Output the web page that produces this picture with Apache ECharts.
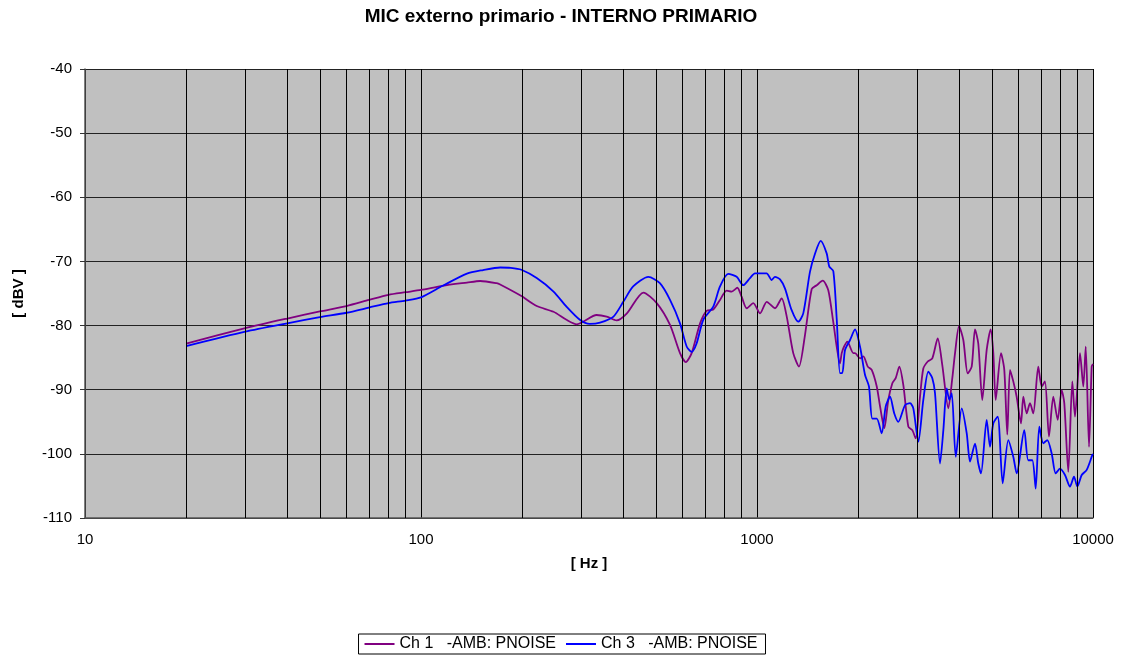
<!DOCTYPE html>
<html>
<head>
<meta charset="utf-8">
<script src="https://cdn.jsdelivr.net/npm/echarts@6/dist/echarts.min.js"></script>
<style>
  html, body { margin: 0; padding: 0; background: #fff; }
  #chart { width: 1122px; height: 657px; }
</style>
</head>
<body>
<div id="chart"></div>
<script>
// Ch 1 response (frequency in Hz, level in dBV)
const ch1Hz = [20,30,40,50,60,70,80,90,100,116,137,150,168,172,199,221,248,271,291,304,333,357,382,410,459,503,551,590,614,639,677,708,741,776,812,841,874,900,932,975,1021,1069,1131,1184,1226,1282,1333,1390,1455,1506,1569,1630,1687,1766,1787,1815,1857,1935,1958,2026,2073,2136,2195,2272,2324,2393,2459,2528,2587,2652,2726,2821,2899,2967,3056,3126,3222,3325,3450,3561,3710,3813,3885,3993,4112,4238,4355,4455,4556,4682,4826,4960,5050,5133,5323,5445,5558,5662,5791,5927,6105,6202,6348,6493,6641,6873,7035,7196,7396,7617,7850,8068,8214,8443,8677,8839,9148,9357,9514,9731,9911,10000];
const ch1Db = [-82.8,-80.4,-78.9,-77.8,-76.95,-76.0,-75.2,-74.8,-74.45,-73.8,-73.3,-73.05,-73.4,-73.6,-75.4,-76.95,-77.85,-79.1,-79.8,-79.4,-78.35,-78.6,-79.2,-78.1,-74.85,-76.5,-79.9,-84.3,-85.7,-84.3,-79.65,-77.7,-77.5,-76.0,-74.55,-74.7,-74.1,-75.5,-77.3,-76.5,-78.1,-76.3,-77.3,-75.75,-78.6,-84.3,-86.4,-81.4,-74.3,-73.7,-73.0,-74.5,-79.5,-85.9,-84.3,-83.3,-82.5,-84.3,-84.3,-85.1,-84.8,-86.4,-86.9,-89.5,-92.6,-96.0,-91.6,-89.0,-88.2,-86.4,-89.3,-95.75,-96.3,-97.6,-91.1,-86.7,-85.6,-85.1,-82.0,-86.2,-92.9,-88.2,-84.3,-80.1,-82.25,-87.45,-86.4,-80.6,-82.8,-91.6,-83.8,-80.6,-84.3,-91.6,-84.3,-86.9,-97.0,-86.9,-88.7,-91.1,-95.25,-91.1,-93.7,-92.1,-93.7,-86.4,-89.5,-88.7,-97.3,-91.1,-94.7,-90.05,-92.1,-102.8,-88.7,-94.2,-84.3,-89.5,-83.3,-98.9,-86.4,-86.0];

// Ch 3 response (frequency in Hz, level in dBV)
const ch3Hz = [20,30,40,50,60,70,80,90,100,116,137,153,172,185,199,221,248,271,297,318,341,374,400,428,475,514,551,590,618,639,661,692,741,776,821,870,910,953,986,1021,1068,1106,1131,1171,1211,1268,1327,1373,1438,1488,1547,1612,1641,1687,1727,1766,1794,1828,1892,1958,2026,2097,2154,2204,2272,2350,2416,2488,2562,2634,2758,2854,2919,3021,3126,3235,3325,3387,3505,3586,3670,3736,3798,3904,4067,4209,4305,4455,4556,4642,4826,4937,5050,5204,5385,5596,5791,5927,6244,6417,6596,6752,6921,7113,7311,7535,7744,7976,8254,8541,8780,8981,9256,9578,9952,10000];
const ch3Db = [-83.2,-80.95,-79.65,-78.7,-78.0,-77.2,-76.5,-76.1,-75.6,-73.8,-71.9,-71.35,-70.95,-71.0,-71.3,-72.6,-74.7,-77.05,-79.1,-79.75,-79.55,-78.6,-76.3,-73.9,-72.4,-73.4,-76.0,-79.65,-83.3,-84.1,-82.8,-79.1,-77.05,-73.9,-71.95,-72.4,-73.7,-72.6,-71.85,-71.85,-71.85,-72.9,-72.4,-72.8,-74.2,-77.6,-79.4,-78.1,-71.6,-68.8,-66.8,-68.75,-70.8,-71.5,-79.0,-87.4,-87.4,-83.8,-82.25,-80.6,-83.3,-87.7,-89.5,-94.5,-94.5,-96.8,-92.6,-91.1,-93.7,-95.0,-92.4,-92.1,-92.9,-98.1,-91.6,-87.2,-88.2,-90.55,-101.5,-96.3,-89.8,-91.6,-90.55,-100.45,-92.9,-96.8,-101.2,-98.4,-101.5,-103.05,-94.7,-98.9,-95.25,-94.2,-104.6,-97.85,-100.45,-103.05,-96.3,-101.0,-101.0,-105.4,-95.75,-98.35,-97.85,-99.95,-103.05,-102.3,-103.3,-105.1,-103.55,-105.1,-103.3,-102.5,-100.2,-100.0];

// Minor gridlines of the logarithmic frequency axis (2..9 x each decade)
const minorGridHz = [20,30,40,50,60,70,80,90,200,300,400,500,600,700,800,900,2000,3000,4000,5000,6000,7000,8000,9000];

const seriesNames = ['Ch 1   -AMB: PNOISE', 'Ch 3   -AMB: PNOISE'];
const seriesColors = ['#800080', '#0000FF'];

const FONT = "'Liberation Sans', Arial, Helvetica, sans-serif";

function pairs(xs, ys) {
  return xs.map((x, i) => [x, ys[i]]);
}

const chart = echarts.init(document.getElementById('chart'), null, { renderer: 'canvas' });

chart.setOption({
  animation: false,
  backgroundColor: '#ffffff',
  title: {
    text: 'MIC externo primario - INTERNO PRIMARIO',
    left: 'center',
    top: 2,
    textStyle: { fontFamily: FONT, fontSize: 19, fontWeight: 'bold', color: '#000' }
  },
  grid: {
    left: 85, right: 29, top: 69, bottom: 139,
    show: true, backgroundColor: '#C0C0C0', borderWidth: 0
  },
  legend: {
    data: seriesNames.map(n => ({ name: n, icon: 'rect' })),
    left: 'center',
    bottom: 3,
    itemWidth: 30,
    itemHeight: 2,
    itemGap: 10,
    padding: [2, 8, 2, 6],
    borderColor: '#000',
    borderWidth: 1,
    backgroundColor: '#fff',
    textStyle: { fontFamily: FONT, fontSize: 16, color: '#000' }
  },
  xAxis: {
    type: 'log',
    logBase: 10,
    min: 10,
    max: 10000,
    name: '[ Hz ]',
    nameLocation: 'middle',
    nameGap: 38,
    nameTextStyle: { fontFamily: FONT, fontSize: 15, fontWeight: 'bold', color: '#000' },
    axisLine: { show: true, onZero: false, lineStyle: { color: '#555', width: 1.5 } },
    axisTick: { show: false },
    axisLabel: {
      margin: 14,
      fontFamily: FONT, fontSize: 15, color: '#000',
      formatter: v => String(Math.round(v))
    },
    splitLine: { show: true, lineStyle: { color: '#000', width: 1 } }
  },
  yAxis: {
    type: 'value',
    min: -110,
    max: -40,
    interval: 10,
    name: '[ dBV ]',
    nameLocation: 'middle',
    nameGap: 59,
    nameRotate: 90,
    nameTextStyle: { fontFamily: FONT, fontSize: 15, fontWeight: 'bold', color: '#000' },
    axisLine: { show: true, onZero: false, lineStyle: { color: '#555', width: 1.5 } },
    axisTick: { show: true, length: 5, lineStyle: { color: '#333' } },
    axisLabel: { margin: 13, fontFamily: FONT, fontSize: 15, color: '#000' },
    splitLine: { show: true, lineStyle: { color: '#222', width: 1 } }
  },
  series: [
    {
      name: 'minor-grid',
      type: 'line',
      data: [],
      silent: true,
      z: 1,
      markLine: {
        silent: true,
        symbol: ['none', 'none'],
        label: { show: false },
        lineStyle: { color: '#000', width: 1, type: 'solid' },
        data: minorGridHz.map(v => ({ xAxis: v }))
      }
    },
    {
      name: seriesNames[0],
      type: 'line',
      data: pairs(ch1Hz, ch1Db),
      showSymbol: false,
      smooth: 0.25,
      z: 3,
      lineStyle: { color: seriesColors[0], width: 1.8 },
      itemStyle: { color: seriesColors[0] }
    },
    {
      name: seriesNames[1],
      type: 'line',
      data: pairs(ch3Hz, ch3Db),
      showSymbol: false,
      smooth: 0.25,
      z: 4,
      lineStyle: { color: seriesColors[1], width: 1.8 },
      itemStyle: { color: seriesColors[1] }
    }
  ]
});
</script>
</body>
</html>
